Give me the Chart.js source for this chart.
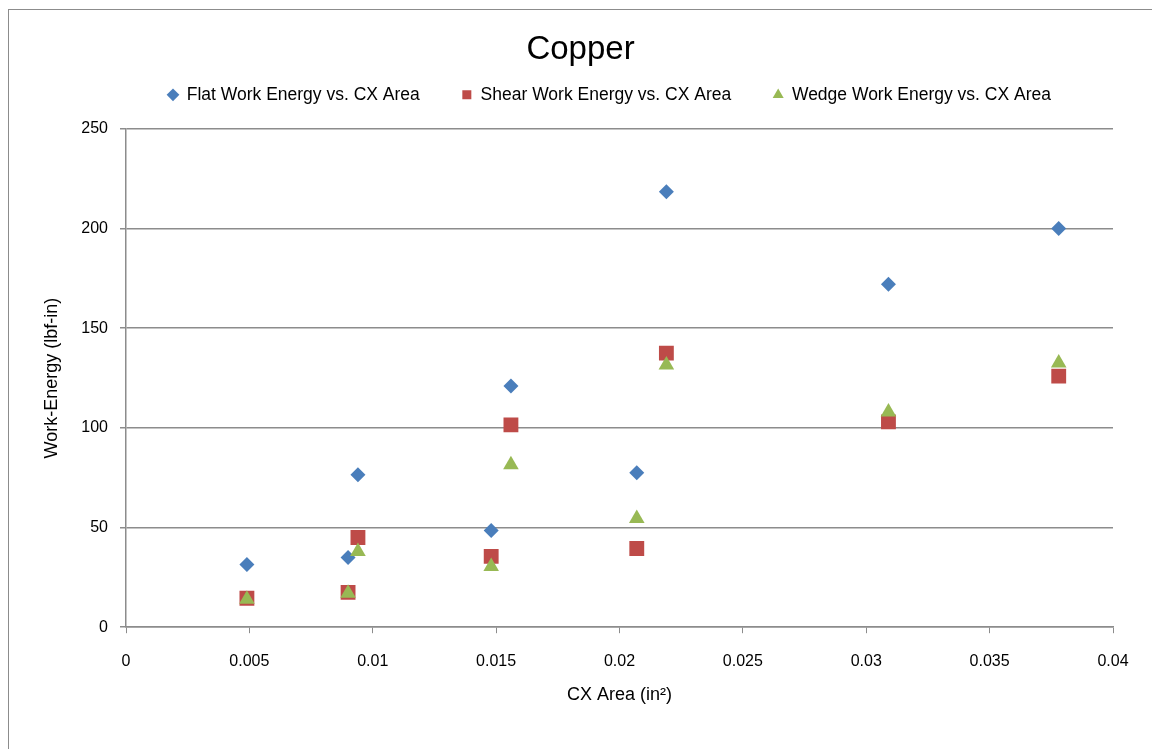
<!DOCTYPE html>
<html lang="en">
<head>
    <meta charset="UTF-8">
    <title>Copper</title>
    <style>
        body {
            margin: 0;
            background: #fff;
        }
        #chartContainer {
            position: absolute;
            left: 0;
            top: 0;
            width: 1152px;
            height: 749px;
        }
    </style>
</head>
<body>
    <div id="chartContainer">
        <canvas id="copperChart"></canvas>
    </div>
<script src="https://cdn.jsdelivr.net/npm/chart.js"></script>
<script>
    // CX area (in^2) for each specimen
    const cxArea = [0.0049, 0.0090, 0.0094, 0.0148, 0.0156, 0.0207, 0.0219, 0.0309, 0.0378];

    // work energy (lbf-in) per tool type
    const flatEnergy  = [31.5, 35, 76.5, 48.5, 121, 77.5, 218.5, 172, 200];
    const shearEnergy = [14.5, 17.5, 45, 35.5, 101.5, 39.5, 137.5, 103, 126];
    const wedgeEnergy = [14, 17, 38, 30.5, 81.5, 54.5, 131.5, 108, 132.5];

    const xTicks = [0, 0.005, 0.01, 0.015, 0.02, 0.025, 0.03, 0.035, 0.04];
    const yTicks = [0, 50, 100, 150, 200, 250];

    const seriesNames = [
        'Flat Work Energy vs. CX Area',
        'Shear Work Energy vs. CX Area',
        'Wedge Work Energy vs. CX Area'
    ];

    function toPoints(values) {
        return cxArea.map((x, i) => ({ x: x, y: values[i] }));
    }

    const font = '"Liberation Sans", Arial, sans-serif';
    const gridGrey = '#8c8c8c';

    // thin grey frame around the whole chart, like the spreadsheet export
    const framePlugin = {
        id: 'frame',
        beforeDraw(chart) {
            const c = chart.ctx;
            c.save();
            c.strokeStyle = gridGrey;
            c.lineWidth = 1;
            c.strokeRect(8.5, 9.5, 1300, 900);
            c.restore();
        }
    };

    const ctx = document.getElementById('copperChart').getContext('2d');
    new Chart(ctx, {
        type: 'scatter',
        data: {
            // order: later series are painted on top, like in the spreadsheet
            datasets: [{
                label: seriesNames[0],
                data: toPoints(flatEnergy),
                order: 3,
                pointStyle: 'rectRot',
                pointRadius: 7.5,
                backgroundColor: '#4a7ebb',
                borderColor: '#4a7ebb',
                borderWidth: 0
            }, {
                label: seriesNames[1],
                data: toPoints(shearEnergy),
                order: 2,
                pointStyle: 'rect',
                pointRadius: 10.5,
                backgroundColor: '#be4b48',
                borderColor: '#be4b48',
                borderWidth: 0
            }, {
                label: seriesNames[2],
                data: toPoints(wedgeEnergy),
                order: 1,
                pointStyle: 'triangle',
                pointRadius: 9,
                backgroundColor: '#98b954',
                borderColor: '#98b954',
                borderWidth: 0
            }]
        },
        options: {
            responsive: true,
            maintainAspectRatio: false,
            animation: false,
            layout: {
                padding: { top: 0, left: 48, right: 39, bottom: 31 }
            },
            plugins: {
                title: {
                    display: true,
                    text: 'Copper',
                    color: '#000',
                    font: { family: font, size: 33, weight: 'normal' },
                    // legend sits close under the title
                    padding: { top: 30, bottom: -25.5 }
                },
                // empty spacer between legend and plot area
                subtitle: {
                    display: true,
                    text: '',
                    weight: 500,
                    font: { family: font, size: 10 },
                    padding: { top: 0, bottom: 3.3 }
                },
                legend: {
                    display: true,
                    fullSize: false,
                    align: 'start',
                    labels: {
                        usePointStyle: true,
                        color: '#000',
                        font: { family: font, size: 17.5 },
                        boxWidth: 10,
                        boxHeight: 9,
                        padding: 42,
                        sort: (a, b) => a.datasetIndex - b.datasetIndex
                    }
                },
                tooltip: { enabled: false }
            },
            scales: {
                x: {
                    type: 'linear',
                    min: 0,
                    max: 0.04,
                    afterBuildTicks(scale) {
                        scale.ticks = xTicks.map(v => ({ value: v }));
                    },
                    ticks: {
                        color: '#000',
                        font: { family: font, size: 16 },
                        padding: 19,
                        maxRotation: 0,
                        callback: v => String(v)
                    },
                    grid: {
                        drawOnChartArea: false,
                        drawTicks: true,
                        tickLength: 6,
                        color: gridGrey
                    },
                    border: { display: true, color: gridGrey, width: 1.5 },
                    title: {
                        display: true,
                        text: 'CX Area (in\u00b2)',
                        color: '#000',
                        font: { family: font, size: 18 },
                        padding: { top: -6, bottom: 12 }
                    }
                },
                y: {
                    type: 'linear',
                    min: 0,
                    max: 250,
                    afterBuildTicks(scale) {
                        scale.ticks = yTicks.map(v => ({ value: v }));
                    },
                    afterFit(scale) {
                        scale.width = 78;
                    },
                    ticks: {
                        color: '#000',
                        font: { family: font, size: 16 },
                        padding: 12,
                        callback: v => String(v)
                    },
                    grid: {
                        drawOnChartArea: true,
                        drawTicks: true,
                        tickLength: 6,
                        color: gridGrey,
                        lineWidth: 1.5
                    },
                    border: { display: true, color: gridGrey, width: 1.5 },
                    title: {
                        display: true,
                        text: 'Work-Energy (lbf-in)',
                        color: '#000',
                        font: { family: font, size: 18 },
                        padding: { top: -6.8, bottom: 0 }
                    }
                }
            }
        },
        plugins: [framePlugin]
    });
</script>
</body>
</html>
